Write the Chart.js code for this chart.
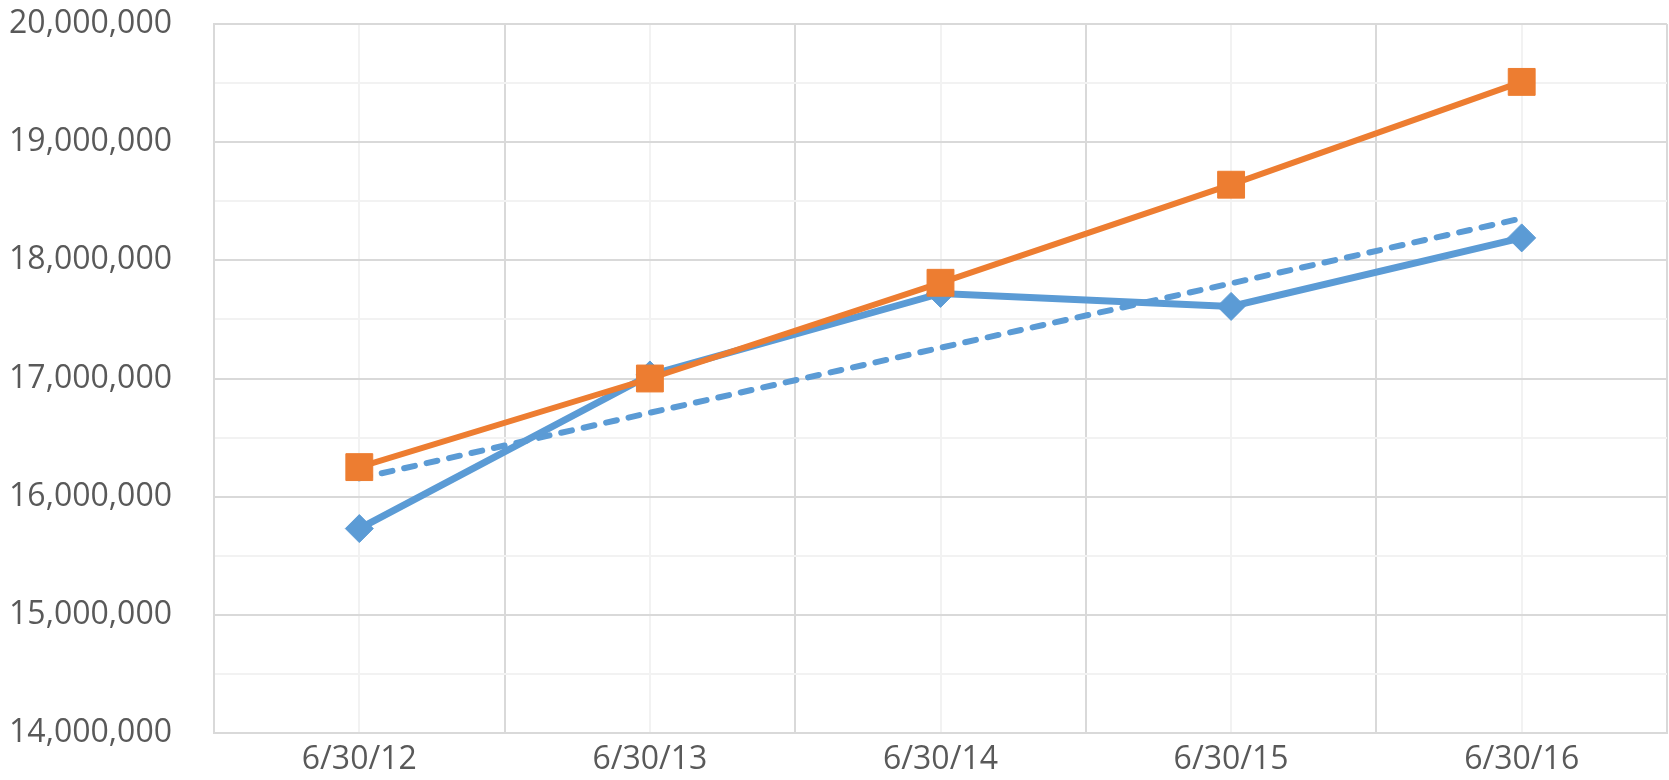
<!DOCTYPE html>
<html>
<head>
<meta charset="utf-8">
<script src="https://cdn.jsdelivr.net/npm/chart.js@4"></script>
<style>
  html, body { margin: 0; padding: 0; background: #fff; }
  #wrap { width: 1669px; height: 780px; }
</style>
</head>
<body>
<div id="wrap"><canvas id="myChart"></canvas></div>
<script>
var xValues = ["6/30/12", "6/30/13", "6/30/14", "6/30/15", "6/30/16"];
var blueValues = [15730000, 17030000, 17720000, 17610000, 18190000];
var orangeValues = [16250000, 17000000, 17810000, 18640000, 19510000];
// dashed trend line at each date
var trendValues = [16155000, 16710000, 17260000, 17805000, 18355000];
var yMin = 14000000;
var yMax = 20000000;

var blue = "#5b9bd5";
var orange = "#ed7d31";
var majorGrid = "#d9d9d9";
var minorGrid = "#f2f2f2";

new Chart("myChart", {
    type: "line",
    data: {
        labels: xValues,
        datasets: [
            {
                data: orangeValues,
                borderColor: orange,
                backgroundColor: orange,
                borderWidth: 6,
                pointStyle: "rect",
                pointRadius: 19,
                pointBorderWidth: 1,
                tension: 0,
                clip: false,
                order: 1,
            },
            {
                data: blueValues,
                borderColor: blue,
                backgroundColor: blue,
                borderWidth: 7,
                pointStyle: "rectRot",
                pointRadius: 14,
                pointBorderWidth: 1,
                tension: 0,
                clip: false,
                order: 2,
            },
            {
                data: trendValues,
                borderColor: blue,
                borderWidth: 6,
                borderDash: [11, 12],
                borderCapStyle: "round",
                pointRadius: 0,
                tension: 0,
                clip: false,
                order: 3,
            },
        ],
    },
    options: {
        responsive: true,
        maintainAspectRatio: false,
        animation: false,
        layout: {
            autoPadding: false,
            padding: { top: 24, right: 2, left: 9, bottom: 0 },
        },
        scales: {
            x: {
                offset: true,
                afterFit: s => { s.height = 47; s.paddingLeft = 0; s.paddingRight = 0; },
                grid: {
                    offset: true,
                    color: majorGrid,
                    lineWidth: 2,
                    drawTicks: false,
                },
                border: { color: majorGrid, width: 2 },
                ticks: {
                    color: "#595959",
                    padding: 8,
                    font: { family: "Open Sans", size: 32 },
                },
            },
            x2: {
                type: "category",
                position: "top",
                offset: true,
                z: -1,
                afterFit: s => { s.height = 0; s.paddingLeft = 0; s.paddingRight = 0; },
                grid: {
                    offset: false,
                    color: minorGrid,
                    lineWidth: 2,
                    drawTicks: false,
                },
                border: { display: false },
                ticks: { display: false },
            },
            y: {
                min: yMin,
                max: yMax,
                afterFit: s => { s.width = 205; s.paddingTop = 0; s.paddingBottom = 0; },
                grid: {
                    color: ctx => (ctx.tick && ctx.tick.value % 1000000 === 0 ? majorGrid : minorGrid),
                    lineWidth: 2,
                    drawTicks: false,
                },
                border: { color: majorGrid, width: 2 },
                ticks: {
                    stepSize: 500000,
                    autoSkip: false,
                    color: "#595959",
                    padding: 42,
                    font: { family: "Open Sans", size: 32 },
                    callback: v => (v % 1000000 === 0 ? v.toLocaleString("en-US") : ""),
                },
            },
        },
        plugins: {
            legend: { display: false },
            tooltip: { enabled: false },
        },
    },
});
</script>
</body>
</html>
